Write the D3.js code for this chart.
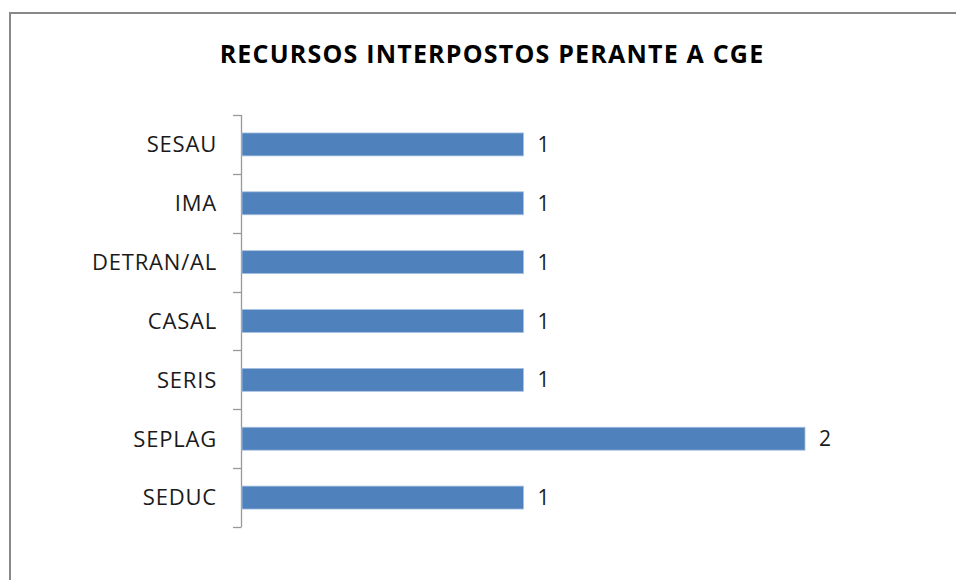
<!DOCTYPE html>
<html lang="en">
<head>
<meta charset="utf-8">
<title>Recursos interpostos perante a CGE</title>
<script src="https://d3js.org/d3.v7.min.js"></script>
<style>
  body { margin: 0; background: #fff; }
  svg { display: block; }
  .title { font-family: "Open Sans", sans-serif; font-weight: bold; font-size: 25px; letter-spacing: 1.2px; fill: #000; }
  .cat { font-family: "Open Sans", sans-serif; font-size: 22px; letter-spacing: 0.8px; fill: #1a1a1a; }
  .val { font-family: "Open Sans", sans-serif; font-size: 21px; fill: #1a1a1a; }
</style>
</head>
<body>
<svg width="956" height="580"></svg>
<script>
// data, top to bottom
const categories = ["SESAU", "IMA", "DETRAN/AL", "CASAL", "SERIS", "SEPLAG", "SEDUC"];
const values = [1, 1, 1, 1, 1, 2, 1];
const chartTitle = "RECURSOS INTERPOSTOS PERANTE A CGE";

const svg = d3.select("svg");

// outer chart frame (runs off the right and bottom edges)
svg.append("rect")
   .attr("x", 10).attr("y", 13)
   .attr("width", 960).attr("height", 600)
   .attr("fill", "none")
   .attr("stroke", "#888")
   .attr("stroke-width", 2);

svg.append("text")
   .attr("class", "title")
   .attr("x", 492).attr("y", 63)
   .attr("text-anchor", "middle")
   .text(chartTitle);

const x = d3.scaleLinear().domain([0, 2]).range([242, 805]);
const y = d3.scaleBand().domain(categories).range([115, 527])
            .paddingInner(0.61).paddingOuter(0.305);

// category axis: line plus ticks at band boundaries
const step = y.step();
const bounds = d3.range(categories.length + 1).map(i => 115 + i * step);
svg.append("line")
   .attr("x1", 241.5).attr("x2", 241.5)
   .attr("y1", 115).attr("y2", 527)
   .attr("stroke", "#999").attr("stroke-width", 1.3);
svg.selectAll(".tick")
   .data(bounds)
   .enter().append("line")
   .attr("x1", 233).attr("x2", 241.5)
   .attr("y1", d => Math.round(d) + 0.5).attr("y2", d => Math.round(d) + 0.5)
   .attr("stroke", "#999").attr("stroke-width", 1.3);

svg.selectAll(".cat")
   .data(categories)
   .enter().append("text")
   .attr("class", "cat")
   .attr("x", 217)
   .attr("y", d => y(d) + y.bandwidth() / 2)
   .attr("dy", "0.36em")
   .attr("text-anchor", "end")
   .text(d => d);

const rows = categories.map((c, i) => ({ cat: c, v: values[i] }));

svg.selectAll(".bar")
   .data(rows)
   .enter().append("rect")
   .attr("x", x(0))
   .attr("y", d => y(d.cat))
   .attr("width", d => x(d.v) - x(0))
   .attr("height", y.bandwidth())
   .attr("fill", "#4f81bd")
   .attr("stroke", "#a8c1e0")
   .attr("stroke-width", 0.8);

svg.selectAll(".val")
   .data(rows)
   .enter().append("text")
   .attr("class", "val")
   .attr("x", d => x(d.v) + 14)
   .attr("y", d => y(d.cat) + y.bandwidth() / 2)
   .attr("dy", "0.36em")
   .text(d => d.v);
</script>
</body>
</html>
